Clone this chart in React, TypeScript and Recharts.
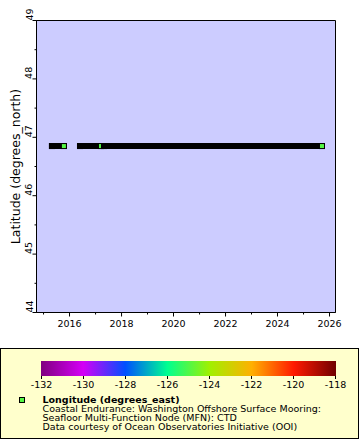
import React from 'react';
import { ComposedChart, Line, XAxis, YAxis, CartesianGrid, ReferenceArea, Legend } from 'recharts';

const FONT = '"DejaVu Sans", Verdana, sans-serif';

// Deployment periods of the instrument (UTC dates) and station position
const deploymentStarts = ['2015-04-29', '2016-05-27', '2017-04-29'];
const deploymentEnds = ['2015-10-14', '2017-03-18', '2025-09-17'];
const stationLatitude = 46.85;
const stationLongitude = -124.95;

// Axes
const timeDomain = ['2014-09-24', '2026-03-26'];
const yearTicks = [2015, 2016, 2017, 2018, 2019, 2020, 2021, 2022, 2023, 2024, 2025, 2026];
const latDomain = [44, 49];
const latTicks = [44, 44.5, 45, 45.5, 46, 46.5, 47, 47.5, 48, 48.5, 49];
const yTitle = 'Latitude (degrees_north)';

// Colour bar
const colorbarTicks = [-132, -130, -128, -126, -124, -122, -120, -118];
const colorbarValues = [-132, -130, -128, -126, -124, -122, -120, -118];
const colorbarColors = ['#800080', '#d400f6', '#0050ff', '#00ff90', '#a0f000', '#ffb000', '#ff1a00', '#700000'];

const legendTitle = 'Longitude (degrees_east)';
const legendLines = [
  'Coastal Endurance: Washington Offshore Surface Mooring:',
  'Seafloor Multi-Function Node (MFN): CTD',
  'Data courtesy of Ocean Observatories Initiative (OOI)',
];

const segments = deploymentStarts.map((s, i) => [
  { t: Date.parse(s), lat: stationLatitude },
  { t: Date.parse(deploymentEnds[i]), lat: stationLatitude },
]);

function hexToRgb(h: string) {
  return [parseInt(h.slice(1, 3), 16), parseInt(h.slice(3, 5), 16), parseInt(h.slice(5, 7), 16)];
}
function colorFor(v: number) {
  for (let i = 0; i < colorbarValues.length - 1; i++) {
    const a = colorbarValues[i], b = colorbarValues[i + 1];
    if (v >= a && v <= b) {
      const t = (v - a) / (b - a);
      const ca = hexToRgb(colorbarColors[i]), cb = hexToRgb(colorbarColors[i + 1]);
      const c = ca.map((x, k) => Math.round(x + (cb[k] - x) * t));
      return `rgb(${c[0]},${c[1]},${c[2]})`;
    }
  }
  return '#000';
}
const markerColor = colorFor(stationLongitude);

const XTick = (props: any) => {
  const { x, y, payload } = props;
  const yr = new Date(payload.value).getUTCFullYear();
  const major = yr % 2 === 0;
  return (
    <g>
      <line x1={x} x2={x} y1={y} y2={y + (major ? 4 : 2)} stroke="#000" strokeWidth={1} />
      {major && (
        <text x={x} y={y + 14.5} textAnchor="middle" fontSize={9.5} fontFamily={FONT} fill="#000">
          {yr}
        </text>
      )}
    </g>
  );
};

const YTick = (props: any) => {
  const { x, y, payload } = props;
  const v = payload.value;
  const major = Number.isInteger(v);
  const tx = x - 4;
  return (
    <g>
      <line x1={x - (major ? 4 : 2)} x2={x} y1={y} y2={y} stroke="#000" strokeWidth={1} />
      {major && (
        <text x={tx} y={y} transform={`rotate(-90 ${tx} ${y})`} textAnchor="start" fontSize={9.5} fontFamily={FONT} fill="#000">
          {v}
        </text>
      )}
    </g>
  );
};

const YTitle = (props: any) => {
  const vb = props.viewBox || { x: 0, y: 20.5, width: 36.5, height: 292 };
  const x = vb.x + 19.5;
  const y = vb.y + vb.height / 2;
  return (
    <text x={x} y={y} transform={`rotate(-90 ${x} ${y})`} textAnchor="middle" fontSize={12.5} fontFamily={FONT} fill="#000">
      {yTitle}
    </text>
  );
};

// first reading of a deployment: black square marker; last reading: marker with coloured fill
const EndDot = (props: any) => {
  const { cx, cy, index } = props;
  if (cx == null) return <g key={`d${index}`} />;
  if (index === 0) {
    return <rect key={`d${index}`} x={cx - 3} y={cy - 3} width={6} height={6} fill="#000" />;
  }
  return (
    <g key={`d${index}`}>
      <rect x={cx - 3} y={cy - 3} width={6} height={6} fill="#000" />
      <rect x={cx - 2} y={cy - 2} width={4} height={4} fill={markerColor} />
    </g>
  );
};

const ColorLegend = () => {
  const lo = colorbarValues[0];
  const hi = colorbarValues[colorbarValues.length - 1];
  const bx = 41, bw = 294;
  const sx = (v: number) => bx + 0.5 + ((v - lo) / (hi - lo)) * bw;
  return (
    <svg width={360} height={92} style={{ display: 'block' }}>
      <defs>
        <linearGradient id="cbar" x1="0" x2="1" y1="0" y2="0">
          {colorbarValues.map((v, i) => (
            <stop key={v} offset={`${((v - lo) / (hi - lo)) * 100}%`} stopColor={colorbarColors[i]} />
          ))}
        </linearGradient>
      </defs>
      <rect x={0.5} y={0.5} width={358} height={90} fill="#ffffcc" stroke="#000" strokeWidth={1} />
      <rect x={bx} y={13} width={bw + 1} height={15} fill="url(#cbar)" />
      {colorbarTicks.map((v) => (
        <g key={v}>
          <line x1={sx(v)} x2={sx(v)} y1={28} y2={31} stroke="#000" strokeWidth={1} />
          <text x={sx(v)} y={40} textAnchor="middle" fontSize={9.5} fontFamily={FONT} fill="#000">
            {v}
          </text>
        </g>
      ))}
      <rect x={19.5} y={49.5} width={5} height={5} fill={markerColor} stroke="#000" strokeWidth={1} />
      <text x={42.5} y={55} fontSize={9.5} fontWeight="bold" fontFamily={FONT} fill="#000">
        {legendTitle}
      </text>
      {legendLines.map((l, i) => (
        <text key={i} x={42.5} y={64 + i * 8.8} fontSize={9.5} fontFamily={FONT} fill="#000">
          {l}
        </text>
      ))}
    </svg>
  );
};

export default function App() {
  const d0 = Date.parse(timeDomain[0]);
  const d1 = Date.parse(timeDomain[1]);
  const xTicks = yearTicks.map((y) => Date.UTC(y, 0, 1));
  return (
    <div style={{ position: 'absolute', left: 0, top: 0, width: 360, height: 440, background: '#fff' }}>
      <ComposedChart width={360} height={440} margin={{ top: 20.5, right: 24.5, bottom: 0, left: 0 }}>
        <CartesianGrid fill="#ccccff" horizontal={false} vertical={false} />
        <XAxis
          dataKey="t"
          type="number"
          domain={[d0, d1]}
          ticks={xTicks}
          interval={0}
          allowDataOverflow
          height={127.5}
          tickLine={false}
          tickSize={0}
          tickMargin={0}
          axisLine={{ stroke: '#000', strokeWidth: 1 }}
          tick={<XTick />}
        />
        <YAxis
          type="number"
          domain={latDomain}
          ticks={latTicks}
          interval={0}
          allowDataOverflow
          width={36.5}
          tickLine={false}
          tickSize={0}
          tickMargin={0}
          axisLine={{ stroke: '#000', strokeWidth: 1 }}
          tick={<YTick />}
          label={{ content: YTitle }}
        />
        {segments.map((seg, i) => (
          <Line
            key={i}
            data={seg}
            dataKey="lat"
            stroke="#000"
            strokeWidth={6}
            strokeLinecap="square"
            dot={EndDot}
            activeDot={false}
            isAnimationActive={false}
            legendType="none"
          />
        ))}
        <ReferenceArea x1={d0} x2={d1} y1={latDomain[0]} y2={latDomain[1]} fill="none" stroke="#000" strokeWidth={1} ifOverflow="visible" />
        <Legend
          layout="horizontal"
          verticalAlign="middle"
          align="center"
          content={() => <ColorLegend />}
          wrapperStyle={{ left: 0, top: 348, width: 360, height: 92 }}
        />
      </ComposedChart>
    </div>
  );
}
